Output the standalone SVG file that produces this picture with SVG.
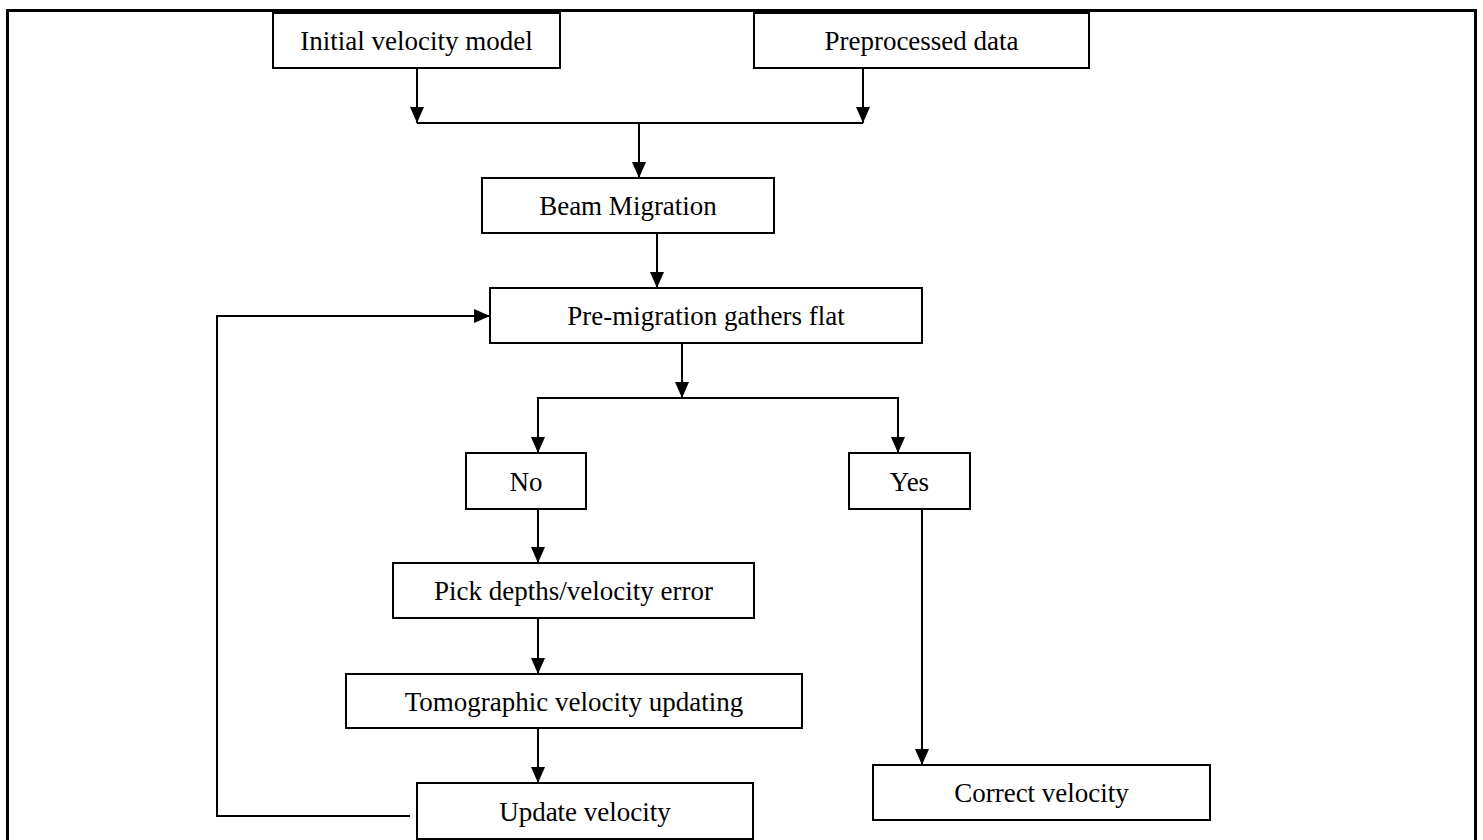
<svg xmlns="http://www.w3.org/2000/svg" width="1483" height="840" viewBox="0 0 1483 840">
<style>
.box{fill:#fff;stroke:#000;stroke-width:2}
.lbl{font-family:"Liberation Serif","Times New Roman",serif;font-size:27px;fill:#000;text-anchor:middle}
.ln{fill:none;stroke:#000;stroke-width:2}
</style>
<defs>
<marker id="ah" markerUnits="userSpaceOnUse" markerWidth="16" markerHeight="16" viewBox="0 0 16 14" refX="16" refY="7" orient="auto">
<path d="M0,0 L16,7 L0,14 Z" fill="#000"/>
</marker>
</defs>
<rect x="0" y="0" width="1483" height="840" fill="#fff"/>
<rect x="7.5" y="10.5" width="1468" height="840" fill="none" stroke="#000" stroke-width="3"/>
<g id="connectors">
<path class="ln" d="M417,68 V123" marker-end="url(#ah)"/>
<path class="ln" d="M863,68 V123" marker-end="url(#ah)"/>
<path class="ln" d="M417,123 H863"/>
<path class="ln" d="M639,123 V178" marker-end="url(#ah)"/>
<path class="ln" d="M657,233 V288" marker-end="url(#ah)"/>
<path class="ln" d="M682,343 V398" marker-end="url(#ah)"/>
<path class="ln" d="M538,453 V398 H898 V453" marker-end="url(#ah)"/>
<path class="ln" d="M538,398 V453" marker-end="url(#ah)"/>
<path class="ln" d="M538,509 V563" marker-end="url(#ah)"/>
<path class="ln" d="M538,618 V674" marker-end="url(#ah)"/>
<path class="ln" d="M538,728 V783" marker-end="url(#ah)"/>
<path class="ln" d="M410,816 H217 V316 H490" marker-end="url(#ah)"/>
<path class="ln" d="M922,509 V765" marker-end="url(#ah)"/>
</g>
<g id="n1"><rect class="box" x="273" y="13" width="287" height="55"/><text class="lbl" x="416.5" y="50">Initial velocity model</text></g>
<g id="n2"><rect class="box" x="754" y="13" width="335" height="55"/><text class="lbl" x="921.5" y="50">Preprocessed data</text></g>
<g id="n3"><rect class="box" x="482" y="178" width="292" height="55"/><text class="lbl" x="628" y="215">Beam Migration</text></g>
<g id="n4"><rect class="box" x="490" y="288" width="432" height="55"/><text class="lbl" x="706" y="325">Pre-migration gathers flat</text></g>
<g id="n5"><rect class="box" x="466" y="453" width="120" height="56"/><text class="lbl" x="526" y="490.5">No</text></g>
<g id="n6"><rect class="box" x="849" y="453" width="121" height="56"/><text class="lbl" x="909.5" y="490.5">Yes</text></g>
<g id="n7"><rect class="box" x="393" y="563" width="361" height="55"/><text class="lbl" x="573.5" y="600">Pick depths/velocity error</text></g>
<g id="n8"><rect class="box" x="346" y="674" width="456" height="54"/><text class="lbl" x="574" y="710.5">Tomographic velocity updating</text></g>
<g id="n9"><rect class="box" x="417" y="783" width="336" height="56"/><text class="lbl" x="585" y="820.5">Update velocity</text></g>
<g id="n10"><rect class="box" x="873" y="765" width="337" height="55"/><text class="lbl" x="1041.5" y="802">Correct velocity</text></g>
</svg>
